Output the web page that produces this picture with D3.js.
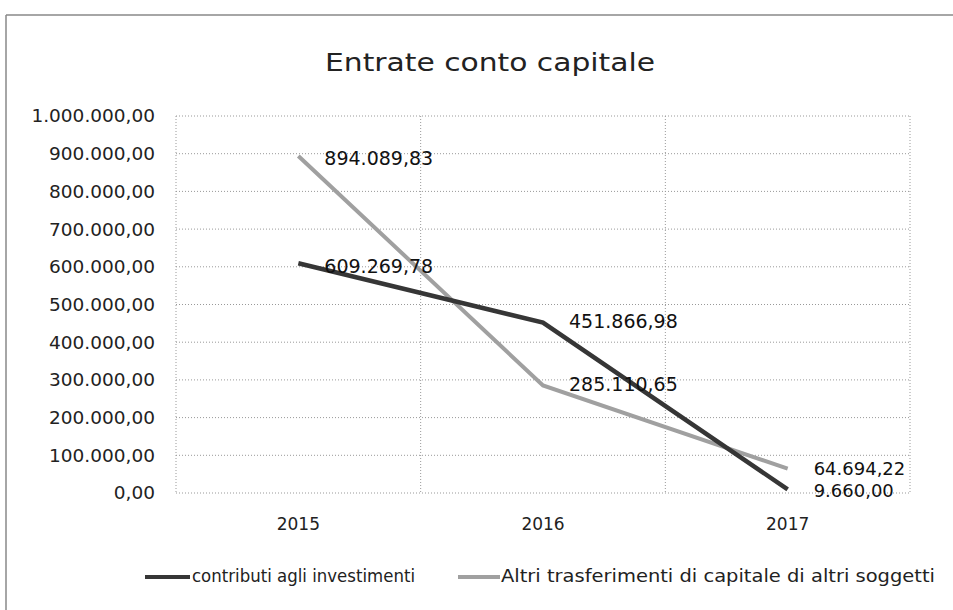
<!DOCTYPE html>
<html><head><meta charset="utf-8">
<script src="https://cdn.jsdelivr.net/npm/d3@7"></script>
<style>body{margin:0;background:#fff;}svg{display:block;}</style>
</head><body>
<svg id="c" width="953" height="610"></svg>
<script>
const categories = ["2015", "2016", "2017"];
const contributi = [609269.78, 451866.98, 9660.00];
const altri = [894089.83, 285110.65, 64694.22];
const seriesNames = ["contributi agli investimenti", "Altri trasferimenti di capitale di altri soggetti"];
const yTicks = [0, 100000, 200000, 300000, 400000, 500000, 600000, 700000, 800000, 900000, 1000000];
const title = "Entrate conto capitale";

(function(){
const svg = d3.select("#c");
const font = "'DejaVu Sans', sans-serif";
const pL = 176, pR = 910, pT = 116, pB = 493;

const fmt = v => {
  const s = v.toFixed(2).split(".");
  return s[0].replace(/\B(?=(\d{3})+(?!\d))/g, ".") + "," + s[1];
};

svg.append("line").attr("x1",6).attr("x2",953).attr("y1",15).attr("y2",15).attr("stroke","#888").attr("stroke-width",1.5);
svg.append("line").attr("x1",6).attr("x2",6).attr("y1",15).attr("y2",610).attr("stroke","#888").attr("stroke-width",1.5);

const x = d3.scaleBand().domain(categories).range([pL, pR]);
const y = d3.scaleLinear().domain([0, 1000000]).range([pB, pT]);

const g = svg.append("g");
g.selectAll(".h").data(yTicks).enter().append("line")
  .attr("x1", pL).attr("x2", pR).attr("y1", d => y(d)).attr("y2", d => y(d))
  .attr("stroke", "#999").attr("stroke-width", 1).attr("stroke-dasharray", "1,2");
const vb = categories.map(c => x(c)).concat([pR]);
g.selectAll(".v").data(vb).enter().append("line")
  .attr("x1", d => d).attr("x2", d => d).attr("y1", pT).attr("y2", pB)
  .attr("stroke", "#999").attr("stroke-width", 1).attr("stroke-dasharray", "1,2");

const yAxis = d3.axisLeft(y).tickValues(yTicks).tickFormat(fmt).tickSize(0).tickPadding(21);
const ya = svg.append("g").attr("transform", `translate(${pL},0)`).call(yAxis);
ya.select(".domain").remove();
ya.selectAll("text").attr("font-family", font).attr("font-size", 18.5).attr("fill", "#222");

const xAxis = d3.axisBottom(x).tickSize(0).tickPadding(25);
const xa = svg.append("g").attr("transform", `translate(0,${pB})`).call(xAxis);
xa.select(".domain").remove();
xa.selectAll("text").attr("font-family", font).attr("font-size", 17).attr("fill", "#222");

svg.append("text").attr("x", 490).attr("y", 71).attr("text-anchor", "middle")
  .attr("font-family", font).attr("font-size", 24).attr("fill", "#222")
  .attr("textLength", 330).attr("lengthAdjust", "spacingAndGlyphs").text(title);

const cx = c => x(c) + x.bandwidth() / 2;
const line = d3.line().x((d, i) => cx(categories[i])).y(d => y(d));
const colors = ["#363636", "#a0a0a0"];
svg.append("path").datum(altri).attr("d", line).attr("fill", "none")
  .attr("stroke", colors[1]).attr("stroke-width", 4);
svg.append("path").datum(contributi).attr("d", line).attr("fill", "none")
  .attr("stroke", colors[0]).attr("stroke-width", 4.5);

const lab = (arr, dys, fs) => arr.forEach((v, i) => {
  svg.append("text").attr("x", cx(categories[i]) + 26).attr("y", y(v) + dys[i])
    .attr("font-family", font).attr("font-size", fs[i]).attr("fill", "#111")
    .attr("dominant-baseline", "middle").text(fmt(v));
});
lab(altri, [4, 0, 1], [19, 19, 18]);
lab(contributi, [4, 0, 2.5], [19, 19, 18]);

const leg = [{x1: 145, x2: 190, tx: 192, w: 223, c: colors[0], n: seriesNames[0]},
             {x1: 458, x2: 500, tx: 501, w: 434, c: colors[1], n: seriesNames[1]}];
leg.forEach(l => {
  svg.append("line").attr("x1", l.x1).attr("x2", l.x2).attr("y1", 577).attr("y2", 577)
    .attr("stroke", l.c).attr("stroke-width", 4);
  svg.append("text").attr("x", l.tx).attr("y", 577).attr("dominant-baseline", "middle")
    .attr("font-family", font).attr("font-size", 17).attr("fill", "#222")
    .attr("textLength", l.w).attr("lengthAdjust", "spacingAndGlyphs").text(l.n);
});
})();
</script>
</body></html>
